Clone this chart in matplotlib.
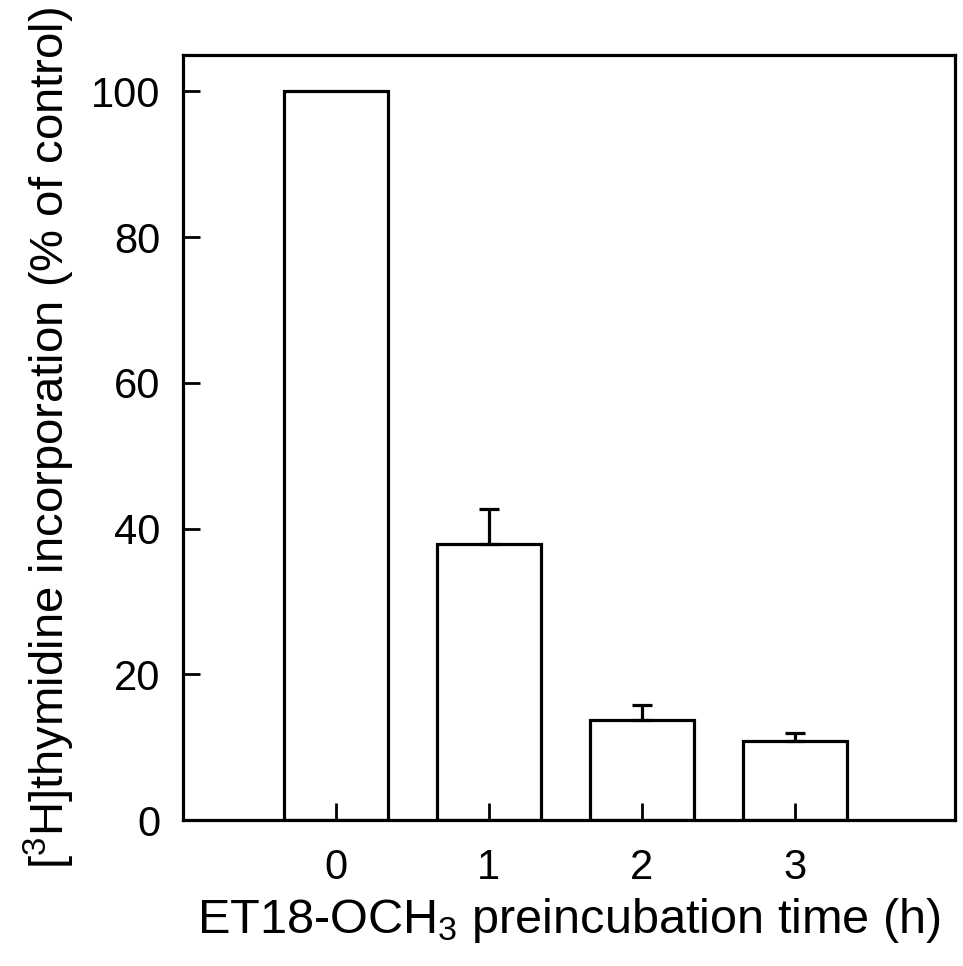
import matplotlib
matplotlib.use("Agg")
import matplotlib.pyplot as plt

categories = ["0", "1", "2", "3"]
values = [100.0, 37.9, 13.8, 10.8]
errors = [0.0, 4.8, 2.0, 1.1]
yticks = [0, 20, 40, 60, 80, 100]

plt.rcParams['font.family'] = ['Liberation Sans', 'DejaVu Sans']
plt.rcParams['mathtext.default'] = 'regular'

fig = plt.figure(figsize=(9.63, 9.66), dpi=100)
ax = fig.add_axes([0.19, 0.151, 0.802, 0.792])
ax.set_axisbelow(False)

x = list(range(len(categories)))
ax.bar(x, values, width=0.68, color='white', edgecolor='black', linewidth=2.3, zorder=2)
err_x = [xi for xi, e in zip(x, errors) if e > 0]
err_y = [v for v, e in zip(values, errors) if e > 0]
err_e = [e for e in errors if e > 0]
ax.errorbar(err_x, err_y, yerr=[[0]*len(err_e), err_e], fmt='none', ecolor='black',
            elinewidth=2.3, capsize=7, capthick=2.3, zorder=3)

ax.set_xlim(-1.0, 4.05)
ax.set_ylim(0, 105)
ax.set_xticks(x)
ax.set_xticklabels(categories)
ax.set_yticks(yticks)
ax.tick_params(direction='in', length=12, width=2, labelsize=30)
ax.tick_params(axis='x', pad=20)
ax.tick_params(axis='y', pad=16)
for s in ax.spines.values():
    s.set_linewidth(2.3)

ax.set_xlabel('ET18-OCH$_3$ preincubation time (h)', fontsize=35, labelpad=6)
ax.set_ylabel('[$^3$H]thymidine incorporation (% of control)', fontsize=34, labelpad=10)

fig.savefig('out.png', dpi=100)
